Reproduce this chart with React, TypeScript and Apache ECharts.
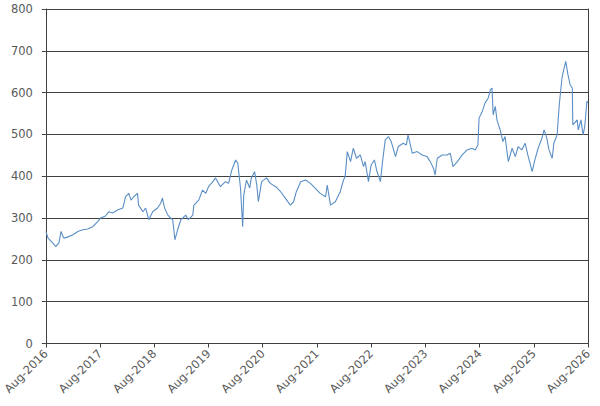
import React, { useEffect, useRef } from "react";
import * as echarts from "echarts";

// x position: years elapsed since Aug 2016
const yearsSinceAug2016 = [
  0, 0.04, 0.07, 0.13, 0.18, 0.24, 0.28, 0.33, 0.41, 0.5,
  0.59, 0.68, 0.77, 0.87, 0.96, 1.01, 1.1, 1.16, 1.23, 1.33,
  1.42, 1.47, 1.53, 1.57, 1.62, 1.69, 1.71, 1.79, 1.84, 1.9,
  1.97, 2.06, 2.12, 2.15, 2.19, 2.25, 2.28, 2.34, 2.38, 2.43,
  2.49, 2.58, 2.63, 2.71, 2.73, 2.82, 2.89, 2.95, 3.0, 3.08,
  3.13, 3.22, 3.31, 3.37, 3.43, 3.5, 3.54, 3.59, 3.63, 3.65,
  3.7, 3.76, 3.79, 3.85, 3.89, 3.92, 3.98, 4.07, 4.14, 4.24,
  4.33, 4.42, 4.51, 4.57, 4.62, 4.7, 4.79, 4.88, 4.97, 5.06,
  5.16, 5.19, 5.25, 5.34, 5.43, 5.49, 5.52, 5.56, 5.62, 5.67,
  5.73, 5.8, 5.86, 5.89, 5.95, 6.0, 6.06, 6.1, 6.17, 6.21,
  6.26, 6.32, 6.37, 6.45, 6.5, 6.59, 6.65, 6.68, 6.76, 6.85,
  6.94, 7.03, 7.09, 7.15, 7.18, 7.22, 7.31, 7.4, 7.46, 7.51,
  7.59, 7.68, 7.77, 7.86, 7.92, 7.97, 7.99, 8.05, 8.1, 8.16,
  8.2, 8.23, 8.25, 8.29, 8.32, 8.38, 8.43, 8.47, 8.53, 8.6,
  8.66, 8.71, 8.78, 8.84, 8.89, 8.97, 9.02, 9.08, 9.15, 9.19,
  9.24, 9.28, 9.34, 9.37, 9.43, 9.47, 9.52, 9.56, 9.59, 9.63,
  9.67, 9.71, 9.72, 9.8, 9.82, 9.87, 9.91, 9.94, 9.98, 10.0,
];

const prices = [
  268, 252, 248, 240, 232, 240, 268, 252, 255, 260,
  268, 272, 274, 280, 292, 300, 305, 315, 312, 320,
  324, 351, 359, 343, 351, 359, 331, 315, 324, 296,
  315, 324, 336, 348, 324, 307, 303, 296, 248, 272,
  296, 307, 296, 307, 331, 343, 367, 359, 375, 387,
  396, 375, 387, 383, 415, 439, 431, 372, 279, 355,
  391, 372, 396, 411, 379, 339, 387, 396, 383, 375,
  363, 347, 331, 339, 363, 387, 391, 383, 371, 359,
  351, 379, 331, 339, 363, 391, 399, 459, 435, 467,
  443, 451, 423, 435, 387, 427, 439, 415, 387, 435,
  487, 495, 483, 447, 471, 479, 475, 499, 455, 459,
  451, 447, 435, 419, 403, 443, 451, 451, 455, 423,
  435, 451, 463, 467, 463, 475, 539, 555, 575, 587,
  607, 611, 547, 567, 535, 511, 483, 495, 435, 467,
  447, 471, 463, 479, 451, 411, 439, 467, 491, 511,
  491, 463, 443, 479, 499, 571, 635, 659, 675, 643,
  619, 611, 523, 535, 511, 535, 499, 519, 579, 576,
];

const xTickLabels = [
  "Aug-2016", "Aug-2017", "Aug-2018", "Aug-2019", "Aug-2020", "Aug-2021",
  "Aug-2022", "Aug-2023", "Aug-2024", "Aug-2025", "Aug-2026",
];

const yMin = 0;
const yMax = 800;
const yStep = 100;

export default function App() {
  const ref = useRef<HTMLDivElement>(null);
  useEffect(() => {
    if (!ref.current) return;
    const chart = echarts.init(ref.current, undefined, { renderer: "svg" });
    const data = yearsSinceAug2016.map((t, i) => [t, prices[i]]);
    const axisColor = "#404040";
    const labelStyle = {
      color: "#595959",
      fontSize: 11.5,
      fontFamily: "DejaVu Sans",
    };
    chart.setOption({
      animation: false,
      grid: { left: 45, right: 12, top: 9, bottom: 62.5, containLabel: false },
      xAxis: {
        type: "value",
        min: 0,
        max: xTickLabels.length - 1,
        interval: 1,
        axisLine: { show: true, onZero: false, lineStyle: { color: axisColor, width: 1 } },
        axisTick: { show: true, length: 4, lineStyle: { color: axisColor } },
        splitLine: { show: false },
        axisLabel: {
          ...labelStyle,
          rotate: 45,
          margin: 8,
          formatter: (v: number) => xTickLabels[Math.round(v)] ?? "",
        },
      },
      yAxis: [
        {
          type: "value",
          min: yMin,
          max: yMax,
          interval: yStep,
          axisLine: { show: true, lineStyle: { color: axisColor, width: 1 } },
          axisTick: { show: true, length: 4, lineStyle: { color: axisColor } },
          splitLine: { show: true, lineStyle: { color: axisColor, width: 1 } },
          axisLabel: { ...labelStyle, margin: 13 },
        },
        {
          type: "value",
          position: "right",
          min: yMin,
          max: yMax,
          interval: yStep,
          axisLine: { show: true, lineStyle: { color: axisColor, width: 1 } },
          axisTick: { show: false },
          splitLine: { show: false },
          axisLabel: { show: false },
        },
      ],
      series: [
        {
          type: "line",
          data,
          symbol: "none",
          showSymbol: false,
          lineStyle: { color: "#5b8fc6", width: 1.1 },
          itemStyle: { color: "#5b8fc6" },
        },
      ],
    });
    return () => chart.dispose();
  }, []);
  return (
    <div
      ref={ref}
      style={{ position: "absolute", left: 0, top: 0, width: 600, height: 406 }}
    />
  );
}
